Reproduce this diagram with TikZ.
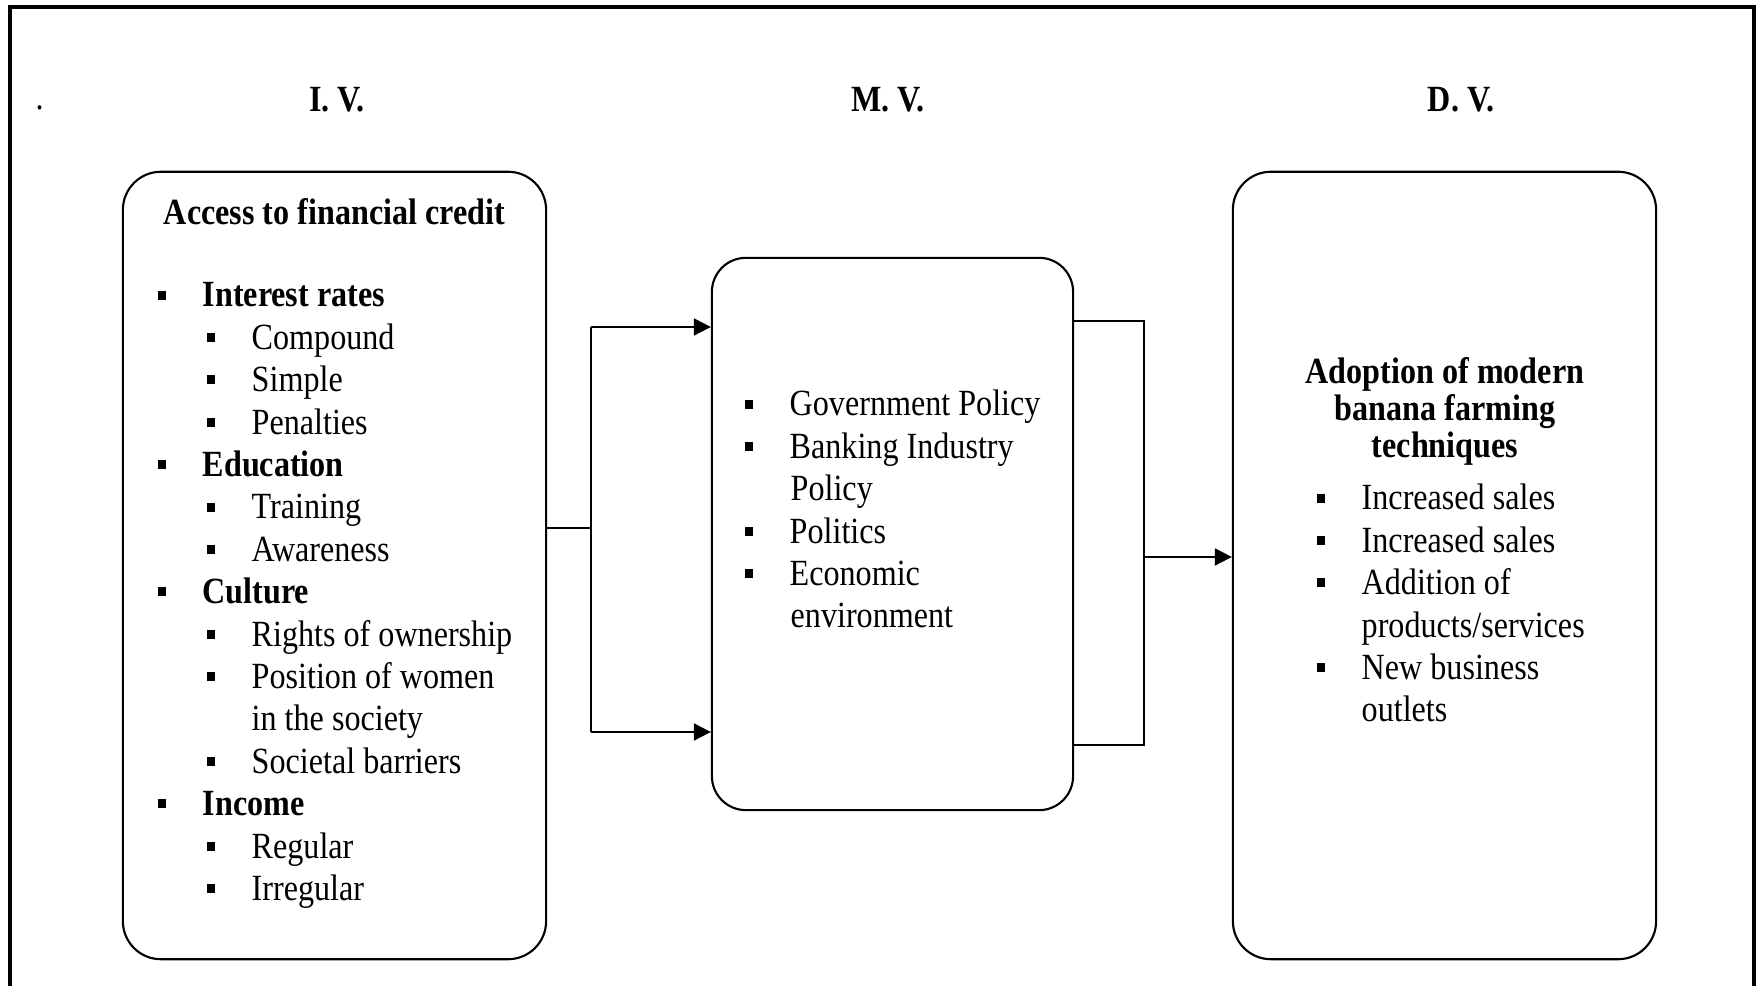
\documentclass[tikz,border=0pt]{standalone}
\usepackage{fontspec}
\setmainfont{Liberation Serif}[FakeStretch=0.87]
\usetikzlibrary{arrows.meta, positioning}
% square list bullet, text starts 0.45cm after it
\newcommand{\sq}{\makebox[0.45cm][l]{\rule[0.2em]{0.08cm}{0.09cm}}}

\begin{document}
\begin{tikzpicture}[x=0.01cm, y=-0.01cm,
    box/.style={draw, line width=0.6pt, rounded corners=0.38cm, inner sep=0pt},
    line/.style={line width=0.6pt},
    arr/.style={line width=0.6pt, -{Triangle[length=4.8pt, width=4.8pt]}},
    txt/.style={inner sep=0pt, anchor=base west, font=\fontsize{10.5}{12}\selectfont},
    hd/.style={inner sep=0pt, anchor=base, font=\fontsize{10.5}{12}\selectfont\bfseries}]
    \useasboundingbox (0,0) rectangle (1759,986);
    % outer frame, open at the bottom
    \draw[line width=1.1pt] (10,1000) -- (10,7) -- (1754,7) -- (1754,1000);

    \node[txt] (dot) at (35,110) {.};
    \node[hd] (iv) at (337,112) {I. V.};
    \node[hd] (mv) at (888,112) {M. V.};
    \node[hd] (dv) at (1461,112) {D. V.};

    \node[box, minimum width=4.23cm, minimum height=7.87cm] (ivbox) at (334.5,565.5) {};
    \node[box, minimum width=3.61cm, minimum height=5.52cm, rounded corners=0.34cm] (mvbox) at (892.5,534) {};
    \node[box, minimum width=4.23cm, minimum height=7.87cm] (dvbox) at (1444.5,565.5) {};

    % independent variable
    \node[hd] (ivhead) at (ivbox.north |- 0,225) {Access to financial credit};
    \foreach \x/\t [count=\i] in {
        157/{\sq\textbf{Interest rates}},
        206/{\sq Compound}, 206/{\sq Simple}, 206/{\sq Penalties},
        157/{\sq\textbf{Education}},
        206/{\sq Training}, 206/{\sq Awareness},
        157/{\sq\textbf{Culture}},
        206/{\sq Rights of ownership}, 206/{\sq Position of women},
        251/{in the society}, 206/{\sq Societal barriers},
        157/{\sq\textbf{Income}},
        206/{\sq Regular}, 206/{\sq Irregular}}
        \node[txt] (iv\i) at (\x,{307+42.4*(\i-1)}) {\t};

    % moderating variable
    \foreach \x/\t [count=\i] in {
        744/{\sq Government Policy}, 744/{\sq Banking Industry},
        790/{Policy}, 744/{\sq Politics},
        744/{\sq Economic}, 790/{environment}}
        \node[txt] (mv\i) at (\x,{416+42.4*(\i-1)}) {\t};

    % dependent variable
    \foreach \t [count=\i] in {Adoption of modern, banana farming, techniques}
        \node[hd] (dvhead\i) at (1445,{384+36.6*(\i-1)}) {\t};
    \foreach \x/\t [count=\i] in {
        1316/{\sq Increased sales}, 1316/{\sq Increased sales},
        1316/{\sq Addition of}, 1361/{products/services},
        1316/{\sq New business}, 1361/{outlets}}
        \node[txt] (dv\i) at (\x,{510+42.4*(\i-1)}) {\t};

    % links
    \coordinate (fork) at (591,528);
    \coordinate (up) at (591,327);
    \coordinate (down) at (591,732);
    \draw[line] (ivbox.east |- fork) -- (fork);
    \draw[line] (up) -- (down);
    \draw[arr] (up) -- (mvbox.west |- up);
    \draw[arr] (down) -- (mvbox.west |- down);

    \coordinate (rtop) at (1144,321);
    \coordinate (rbot) at (1144,745);
    \coordinate (join) at (1144,557);
    \draw[line] (mvbox.east |- rtop) -- (rtop) -- (rbot) -- (mvbox.east |- rbot);
    \draw[arr] (join) -- (dvbox.west |- join);
\end{tikzpicture}
\end{document}
